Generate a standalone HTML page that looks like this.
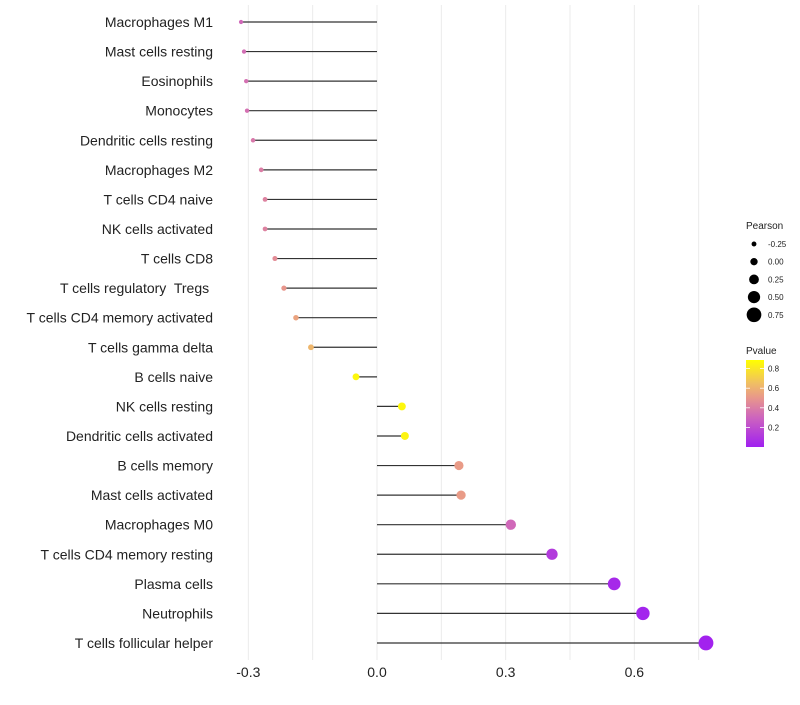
<!DOCTYPE html>
<html><head><meta charset="utf-8"><style>
body{margin:0;background:#fff;font-family:"Liberation Sans",sans-serif}
svg text{font-family:"Liberation Sans",sans-serif;white-space:pre}
</style></head><body>
<svg id="c" width="800" height="700"></svg>
<script>
const categories=["Macrophages M1","Mast cells resting","Eosinophils","Monocytes","Dendritic cells resting","Macrophages M2","T cells CD4 naive","NK cells activated","T cells CD8","T cells regulatory  Tregs ","T cells CD4 memory activated","T cells gamma delta","B cells naive","NK cells resting","Dendritic cells activated","B cells memory","Mast cells activated","Macrophages M0","T cells CD4 memory resting","Plasma cells","Neutrophils","T cells follicular helper"];
const pearson=[-0.317,-0.310,-0.305,-0.303,-0.289,-0.270,-0.261,-0.261,-0.238,-0.217,-0.189,-0.154,-0.049,0.058,0.065,0.191,0.196,0.312,0.408,0.553,0.620,0.767];
const pvalues=[0.32,0.34,0.35,0.35,0.38,0.40,0.42,0.42,0.46,0.50,0.55,0.62,0.86,0.86,0.85,0.52,0.52,0.32,0.12,0.04,0.02,0.01];
const xTicks=[-0.3,0,0.3,0.6];
const sizeLegend=[-0.25,0,0.25,0.5,0.75];
const pTicks=[0.8,0.6,0.4,0.2];
const NS="http://www.w3.org/2000/svg",svg=document.getElementById('c');
function el(t,a,p){const e=document.createElementNS(NS,t);for(const k in a)e.setAttribute(k,a[k]);(p||svg).appendChild(e);return e;}
const x=v=>377+v*428.9;
const y=i=>22+i*29.57;
const r=v=>2.1+(v+0.32)*4.9;
const stops=[[0,[160,32,240]],[0.3,[205,100,190]],[0.5,[232,150,140]],[0.65,[240,190,100]],[0.89,[255,255,0]]];
function col(p){for(let i=1;i<stops.length;i++){if(p<=stops[i][0]||i==stops.length-1){const a=stops[i-1],b=stops[i];let t=Math.max(0,Math.min(1,(p-a[0])/(b[0]-a[0])));return 'rgb('+a[1].map((c,j)=>Math.round(c+(b[1][j]-c)*t)).join(',')+')';}}}
for(let v=-0.3;v<=0.76;v+=0.15){const g=el('line',{x1:x(v),x2:x(v),y1:5,y2:660,stroke:'#ebebeb','stroke-width':1});}
xTicks.forEach(v=>{const t=el('text',{x:x(v),y:677,'text-anchor':'middle','font-size':14,fill:'#222'});t.textContent=v.toFixed(1);});
categories.forEach((c,i)=>{
 const t=el('text',{x:213,y:y(i)+5,'text-anchor':'end','font-size':14,fill:'#222'});t.textContent=c;
 
 const l=el('line',{x1:x(0),x2:x(pearson[i]),y1:y(i),y2:y(i),stroke:'#333','stroke-width':1.2});
 
 const d=el('circle',{cx:x(pearson[i]),cy:y(i),r:r(pearson[i]),fill:col(pvalues[i])});
 
});
let t=el('text',{x:746,y:229,'font-size':10,fill:'#222'});t.textContent='Pearson';
sizeLegend.forEach((v,i)=>{const yy=244+i*17.7;
 const c=el('circle',{cx:754,cy:yy,r:r(v),fill:'#000'});
 const tt=el('text',{x:768,y:yy+3,'font-size':8,fill:'#222'});tt.textContent=v.toFixed(2);});
t=el('text',{x:746,y:354,'font-size':10,fill:'#222'});t.textContent='Pvalue';
const defs=el('defs',{});const lg=el('linearGradient',{id:'pg',x1:0,y1:1,x2:0,y2:0},defs);
stops.forEach(s=>el('stop',{offset:s[0]/0.89,'stop-color':col(s[0])},lg));
const bar=el('rect',{x:746,y:360,width:18,height:87,fill:'url(#pg)'});
pTicks.forEach(v=>{const yy=447-v*98;
 el('line',{x1:746,x2:750,y1:yy,y2:yy,stroke:'#fff','stroke-width':0.8});el('line',{x1:760,x2:764,y1:yy,y2:yy,stroke:'#fff','stroke-width':0.8});
 const tt=el('text',{x:768,y:yy+3,'font-size':8,fill:'#222'});tt.textContent=v.toFixed(1);});
</script>
</body></html>
